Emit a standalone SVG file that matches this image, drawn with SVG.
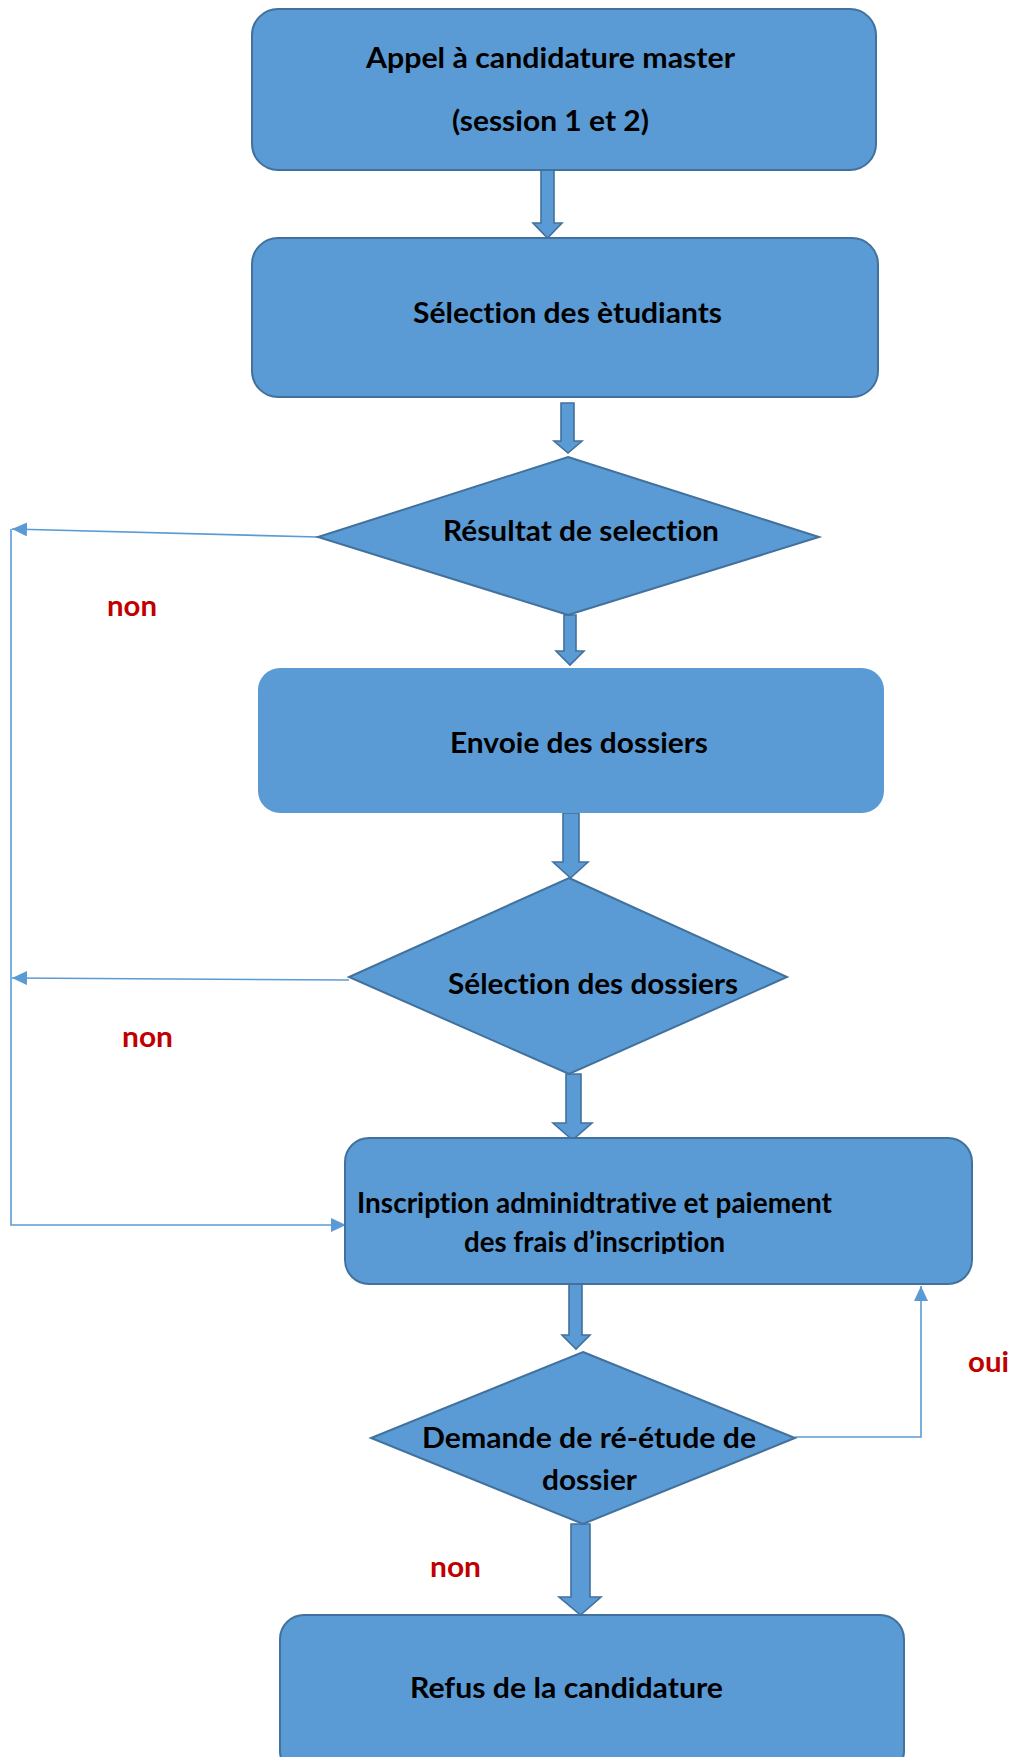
<svg xmlns="http://www.w3.org/2000/svg" width="1012" height="1757" viewBox="0 0 1012 1757">
<style>
.box{fill:#5B9BD5;stroke:#41719C;stroke-width:2}
.flat{fill:#5B9BD5;stroke:none}
.dia{fill:#5B9BD5;stroke:#41719C;stroke-width:2;stroke-linejoin:miter}
.big{fill:#5B9BD5;stroke:#41719C;stroke-width:1.6;stroke-linejoin:miter}
.thin{fill:none;stroke:#5B9BD5;stroke-width:1.6}
.t{font-family:Lato,"Liberation Sans",Arial,sans-serif;font-weight:bold;font-size:28px;fill:#000000;font-variant-ligatures:none;font-feature-settings:"liga" 0,"clig" 0}
.r{font-family:Lato,"Liberation Sans",Arial,sans-serif;font-weight:bold;font-size:28px;fill:#C00000;font-variant-ligatures:none}
</style>
<defs>
<marker id="ah" viewBox="0 0 15 14" refX="15" refY="7" markerWidth="15" markerHeight="14" markerUnits="userSpaceOnUse" orient="auto">
<path d="M0,0 L15,7 L0,14 z" fill="#5B9BD5"/>
</marker>
<clipPath id="clip5"><rect x="345" y="1138" width="627" height="116"/></clipPath>
</defs>

<g id="connectors">
<path class="thin" d="M318,537 L12,529" marker-end="url(#ah)"/>
<path class="thin" d="M349,980 L12,978" marker-end="url(#ah)"/>
<path class="thin" d="M11,529 V1225 H346" marker-end="url(#ah)"/>
<path class="thin" d="M795,1437 H921 V1286" marker-end="url(#ah)"/>
<polygon class="big" points="541,170 554,170 554,223 562,223 547.5,238 533,223 541,223"/>
<polygon class="big" points="561,403 574,403 574,441 582,441 568,453 554,441 561,441"/>
<polygon class="big" points="564,615 576,615 576,651 584,651 570,665 556,651 564,651"/>
<polygon class="big" points="563,813 579,813 579,862 588,862 570.5,878 553,862 563,862"/>
<polygon class="big" points="566,1074 581,1074 581,1123 592,1123 572.5,1140 553,1123 566,1123"/>
<polygon class="big" points="569,1284 582,1284 582,1335 590,1335 576,1349 562,1335 569,1335"/>
<polygon class="big" points="571,1524 590,1524 590,1597 601,1597 580.5,1615 559,1597 571,1597"/>
</g>

<g id="n1">
<rect class="box" x="252" y="9" width="624" height="161" rx="26" ry="26"/>
<text class="t" x="366" y="68" textLength="369" lengthAdjust="spacingAndGlyphs">Appel à candidature master</text>
<text class="t" x="452" y="131" textLength="197" lengthAdjust="spacingAndGlyphs">(session 1 et 2)</text>
</g>

<g id="n2">
<rect class="box" x="252" y="238" width="626" height="159" rx="26" ry="26"/>
<text class="t" x="413" y="323" textLength="309" lengthAdjust="spacingAndGlyphs">Sélection des ètudiants</text>
</g>

<g id="n3">
<polygon class="dia" points="568,457 819,537 568,615 318,537"/>
<text class="t" x="443" y="541" textLength="276" lengthAdjust="spacingAndGlyphs">Résultat de selection</text>
</g>

<g id="n4">
<rect class="flat" x="258" y="668" width="626" height="145" rx="22" ry="22"/>
<text class="t" x="450" y="753" textLength="258" lengthAdjust="spacingAndGlyphs">Envoie des dossiers</text>
</g>

<g id="n5">
<polygon class="dia" points="569,878 787,977 569,1074 349,977"/>
<text class="t" x="448" y="994" textLength="290" lengthAdjust="spacingAndGlyphs">Sélection des dossiers</text>
</g>

<g id="n6">
<rect class="box" x="345" y="1138" width="627" height="146" rx="24" ry="24"/>
<text class="t" x="357" y="1213" textLength="475" lengthAdjust="spacingAndGlyphs">Inscription adminidtrative et paiement</text>
<text class="t" x="464" y="1252" textLength="261" lengthAdjust="spacingAndGlyphs" clip-path="url(#clip5)">des frais d’inscription</text>
</g>

<g id="n7">
<polygon class="dia" points="583,1352 795,1438 583,1524 371,1438"/>
<text class="t" x="422" y="1448" textLength="334" lengthAdjust="spacingAndGlyphs">Demande de ré-étude de</text>
<text class="t" x="542" y="1490" textLength="95" lengthAdjust="spacingAndGlyphs">dossier</text>
</g>

<g id="n8">
<rect class="box" x="280" y="1615" width="624" height="160" rx="24" ry="24"/>
<text class="t" x="410" y="1698" textLength="313" lengthAdjust="spacingAndGlyphs">Refus de la candidature</text>
</g>

<g id="labels">
<text class="r" x="107" y="616" textLength="50" lengthAdjust="spacingAndGlyphs">non</text>
<text class="r" x="122" y="1047" textLength="51" lengthAdjust="spacingAndGlyphs">non</text>
<text class="r" x="430" y="1577" textLength="51" lengthAdjust="spacingAndGlyphs">non</text>
<text class="r" x="968" y="1372" textLength="41" lengthAdjust="spacingAndGlyphs">oui</text>
</g>
</svg>
